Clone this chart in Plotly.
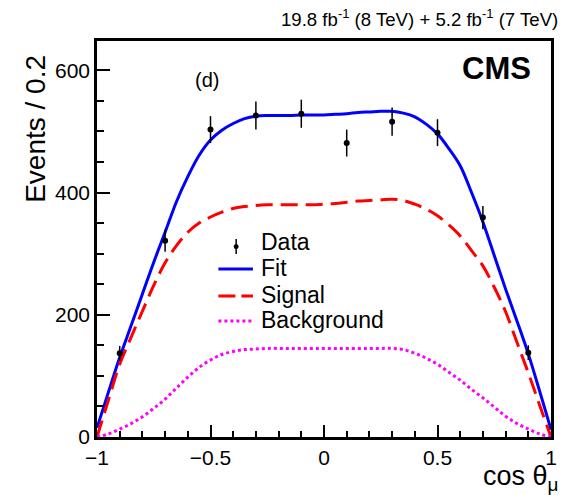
import plotly.graph_objects as go

# ---- data ----
x_data = [-0.9, -0.7, -0.5, -0.3, -0.1, 0.1, 0.3, 0.5, 0.7, 0.9]
y_data = [137, 321, 503, 526, 529, 481, 516, 498, 359, 138]
y_err = [12, 18, 22, 23, 23, 22, 23, 22, 19, 12]

x_curve = [-1.00, -0.95, -0.90, -0.85, -0.80, -0.75, -0.70, -0.65, -0.60, -0.55,
           -0.50, -0.45, -0.40, -0.35, -0.30, -0.25, -0.20, -0.15, -0.10, -0.05,
           0.00, 0.05, 0.10, 0.15, 0.20, 0.25, 0.30, 0.35, 0.40, 0.45,
           0.50, 0.55, 0.60, 0.65, 0.70, 0.75, 0.80, 0.85, 0.90, 0.95, 1.00]
fit = [15, 73, 130, 182, 234, 286, 335, 385, 426, 461,
       486, 502, 513, 521, 525, 526, 526, 526, 527, 527,
       527, 528, 529, 531, 532, 533, 533, 530, 524, 512,
       496, 472, 444, 400, 352, 297, 242, 190, 136, 75, 12]
signal = [0, 60, 119, 163, 206, 248, 285, 313, 335, 350,
          360, 368, 374, 377, 379, 380, 380, 380, 380, 380,
          381, 382, 384, 386, 387, 388, 389, 387, 381, 373,
          362, 347, 329, 305, 280, 245, 205, 155, 105, 52, 0]
background = [0, 5, 13, 22, 33, 47, 62, 80, 98, 114,
              126, 135, 140, 143, 144, 145, 145, 145, 145, 145,
              145, 145, 145, 145, 145, 145, 145, 143, 137, 129,
              119, 106, 93, 78, 64, 49, 34, 22, 13, 5, 0]

legend_names = ["Data", "Fit", "Signal", "Background"]

x_ticks = [-1, -0.5, 0, 0.5, 1]
x_ticktext = ["\u22121", "\u22120.5", "0", "0.5", "1"]
y_ticks = [0, 200, 400, 600]

W, H = 565, 495
ML, MR, MT, MB = 97, 8, 41, 58
FONT = "Liberation Sans, Arial, Helvetica, sans-serif"

BLUE, RED, MAGENTA = "#0000ff", "#ff0000", "#ff00ff"
RED_DASH, MAG_DOT = "17px,8px", "3px,3px"


def px(xp):
    return (xp - ML) / (W - ML - MR)


def py(yp):
    return (H - MB - yp) / (H - MT - MB)


fig = go.Figure()
fig.add_trace(go.Scatter(
    x=x_curve, y=fit, mode="lines", name="Fit", line_shape="spline",
    line=dict(color=BLUE, width=3), showlegend=False,
))
fig.add_trace(go.Scatter(
    x=x_curve, y=signal, mode="lines", name="Signal", line_shape="spline",
    line=dict(color=RED, width=3, dash=RED_DASH), showlegend=False,
))
fig.add_trace(go.Scatter(
    x=x_curve, y=background, mode="lines", name="Background", line_shape="spline",
    line=dict(color=MAGENTA, width=3, dash=MAG_DOT), showlegend=False,
))
fig.add_trace(go.Scatter(
    x=x_data, y=y_data, mode="markers", name="Data",
    marker=dict(color="black", size=6),
    error_y=dict(type="data", array=y_err, color="black", thickness=1.5, width=0),
    showlegend=False,
))

axis_common = dict(
    showgrid=False, zeroline=False, showline=True, mirror=True,
    linecolor="black", linewidth=2.5, ticks="inside", tickcolor="black",
    tickwidth=2, tickfont=dict(family=FONT, size=21, color="black"),
)
fig.update_xaxes(range=[-1, 1], tickvals=x_ticks, ticktext=x_ticktext, ticklen=12,
                 minor=dict(ticks="inside", dtick=0.1, ticklen=6, tickwidth=2,
                            tickcolor="black"),
                 **axis_common)
fig.update_yaxes(range=[0, 648], tickvals=y_ticks, ticklen=13,
                 minor=dict(ticks="inside", dtick=50, ticklen=7, tickwidth=2,
                            tickcolor="black"),
                 **axis_common)

annotations = [
    dict(text="19.8 fb<sup>-1</sup> (8 TeV) + 5.2 fb<sup>-1</sup> (7 TeV)",
         x=px(566), y=py(18), xanchor="right", yanchor="middle",
         font=dict(family=FONT, size=18.6, color="black")),
    dict(text="<b>CMS</b>", x=px(539), y=py(68), xanchor="right", yanchor="middle",
         font=dict(family=FONT, size=31, color="black")),
    dict(text="(d)", x=px(208), y=py(80), xanchor="center", yanchor="middle",
         font=dict(family=FONT, size=20, color="black")),
    dict(text="Events / 0.2", textangle=-90, x=px(34), y=py(53),
         xanchor="center", yanchor="top",
         font=dict(family=FONT, size=28, color="black")),
    dict(text="cos \u03b8<sub>\u03bc</sub>", x=px(566), y=py(459),
         xanchor="right", yanchor="top",
         font=dict(family=FONT, size=27, color="black")),
]

# ---- hand-built legend (ROOT-like compact spacing) ----
row_y = [242, 268, 295, 320]
sym_x0, sym_x1, text_x = 220, 255, 261
shapes = []
for name, yy in zip(legend_names, row_y):
    annotations.append(dict(text=name, x=px(text_x), y=py(yy), xanchor="left",
                            yanchor="middle",
                            font=dict(family=FONT, size=23, color="black")))
# data symbol: dot with vertical error bar
shapes.append(dict(type="line", x0=px(238), x1=px(238), y0=py(239), y1=py(254),
                   line=dict(color="black", width=1.5)))
shapes.append(dict(type="circle", x0=px(235.5), x1=px(240.5), y0=py(244), y1=py(249),
                   fillcolor="black", line=dict(color="black", width=0)))
for yy, col, dash in zip(row_y[1:], [BLUE, RED, MAGENTA], ["solid", "17px,6px", MAG_DOT]):
    shapes.append(dict(type="line", x0=px(sym_x0), x1=px(sym_x1), y0=py(yy + 1),
                       y1=py(yy + 1), line=dict(color=col, width=3, dash=dash)))
for s in shapes:
    s.update(xref="paper", yref="paper")

for a in annotations:
    a.update(xref="paper", yref="paper", showarrow=False)

fig.update_layout(
    width=W, height=H,
    margin=dict(l=ML, r=MR, t=MT, b=MB),
    paper_bgcolor="white", plot_bgcolor="white",
    font=dict(family=FONT, color="black"),
    annotations=annotations,
    shapes=shapes,
    showlegend=False,
)

fig.write_html("out.html")
